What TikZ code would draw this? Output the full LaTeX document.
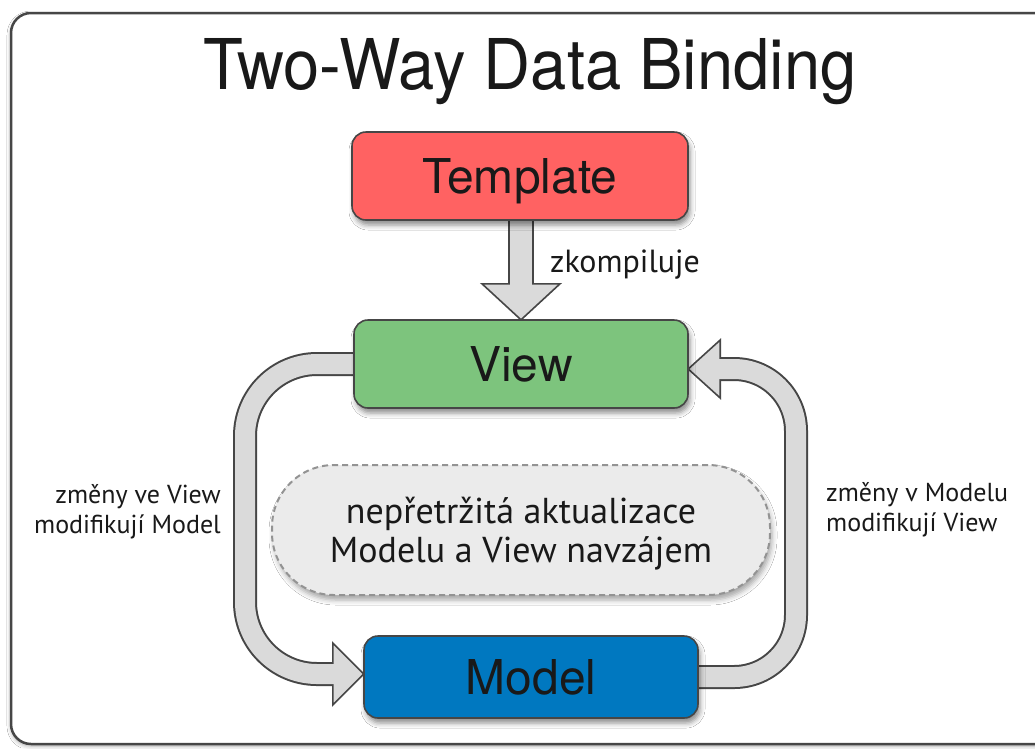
\documentclass[tikz,border=0pt]{standalone}
\usepackage{fontspec}
\setmainfont{TeX Gyre Heros}
\newfontfamily\labfont{PT Sans}
\usetikzlibrary{calc,shadows.blur}
\definecolor{tred}{RGB}{255,98,98}
\definecolor{vgreen}{RGB}{125,196,125}
\definecolor{mblue}{RGB}{0,120,192}
\definecolor{arrfill}{RGB}{218,218,218}
\definecolor{edgec}{RGB}{70,70,70}
\definecolor{txt}{RGB}{25,25,25}
\begin{document}
\begin{tikzpicture}[x=1pt,y=-1pt,
  box/.style={rounded corners=14pt, draw=edgec, line width=1.6pt, minimum width=334pt,
    minimum height=88pt, inner sep=0pt, text=txt, font=\fontsize{48}{50}\selectfont,
    text height=34pt, text depth=0pt,
    blur shadow={shadow xshift=2pt, shadow yshift=-5pt, shadow blur radius=5pt, shadow opacity=45}},
  lab/.style={font=\labfont\fontsize{26}{30}\selectfont, text=txt, inner sep=0pt},
  shaftout/.style={draw=edgec, line width=24pt},
  shaftin/.style={draw=arrfill, line width=20pt},
  head/.style={fill=arrfill, draw=edgec, line width=1.6pt, line join=miter},
]
\useasboundingbox (0,0) rectangle (1035,748);
\fill[white] (0,0) rectangle (1035,748);
% outer frame
\draw[rounded corners=20pt, draw=edgec, line width=2.5pt, fill=white,
  blur shadow={shadow xshift=0pt, shadow yshift=-2pt, shadow blur radius=4pt, shadow opacity=35}]
  (11,13) rectangle (1060,744);
% title
\node[text=txt, font=\fontsize{70}{72}\selectfont, inner sep=0pt, anchor=base] (title) at (530,89)
  {\scalebox{0.93}[1]{Two-Way Data Binding}};
% nodes (positions)
\coordinate (tc) at (520,176);
\coordinate (vc) at (521,364);
\coordinate (mc) at (531,677);
% central note
\node[rounded corners=62pt, draw=gray!85, dash pattern=on 6pt off 4pt, line width=2pt,
  fill=gray!16, minimum width=498pt, minimum height=130pt, inner sep=0pt,
  blur shadow={shadow xshift=2pt, shadow yshift=-5pt, shadow blur radius=5pt, shadow opacity=35}]
  (upd) at (521,530) {};
\node[align=center, text=txt, font=\labfont\fontsize{36}{39}\selectfont, inner sep=0pt, anchor=base]
  (updtext) at ($(upd.center)+(0,32)$) {nepřetržitá aktualizace\\Modelu a View navzájem};
% boxes placeholder for anchors (drawn later on top)
\path (tc) node[minimum width=336pt, minimum height=88pt, inner sep=0pt] (tmpl) {};
\path (vc) node[minimum width=334pt, minimum height=88pt, inner sep=0pt] (view) {};
\path (mc) node[minimum width=334pt, minimum height=82pt, inner sep=0pt] (model) {};
% coordinates for arrows
\coordinate (xl) at (245,0);
\coordinate (xr) at (796,0);
\coordinate (ls) at ($(view.west)+(8,0)$);
\coordinate (lh) at ($(model.west)+(-31,-3)$);
\coordinate (lt) at ($(model.west)+(0,-3)$);
\coordinate (rs) at ($(model.east)+(-8,0)$);
\coordinate (rh) at ($(view.east)+(32,5)$);
\coordinate (rt) at ($(view.east)+(0,5)$);
\coordinate (ds) at ($(tmpl.south)+(1,-8)$);
\coordinate (dh) at ($(view.north)+(0,-36)$);
% left arrow
\draw[shaftout, rounded corners=72pt] (ls) -- (ls -| xl) -- (lh -| xl) -- (lh);
\draw[head] ($(lh)+(0,-31)$) -- (lt) -- ($(lh)+(0,31)$) -- cycle;
\draw[shaftin, rounded corners=72pt] (ls) -- (ls -| xl) -- (lh -| xl) -- ($(lh)+(3,0)$);
% right arrow
\draw[shaftout, rounded corners=62pt] (rs) -- (rs -| xr) -- (rh -| xr) -- (rh);
\draw[head] ($(rh)+(0,-29)$) -- (rt) -- ($(rh)+(0,29)$) -- cycle;
\draw[shaftin, rounded corners=62pt] (rs) -- (rs -| xr) -- (rh -| xr) -- ($(rh)+(-3,0)$);
% down arrow
\draw[shaftout, line width=26pt,
  blur shadow={shadow xshift=4pt, shadow yshift=-2pt, shadow blur radius=3pt, shadow opacity=30}]
  (ds) -- (ds |- dh);
\draw[head] ($(ds |- dh)+(-39,0)$) -- (view.north) -- ($(ds |- dh)+(39,0)$) -- cycle;
\draw[shaftin, line width=22pt] (ds) -- ($(ds |- dh)+(0,3)$);
% boxes
\node[box, fill=tred, minimum width=336pt] (tmplbox) at (tmpl) {Template};
\node[box, fill=vgreen] (viewbox) at (view) {View};
\node[box, fill=mblue, minimum height=82pt] (modelbox) at (model) {Model};
% labels
\node[font=\labfont\fontsize{32}{34}\selectfont, text=txt, anchor=base west, inner sep=0pt] (zk) at (550,272) {zkompiluje};
\node[lab, anchor=east, align=right] (ll) at (221,512) {změny ve View\\modifikují Model};
\node[lab, anchor=west, align=left] (rl) at (826,510) {změny v Modelu\\modifikují View};
\end{tikzpicture}
\end{document}
